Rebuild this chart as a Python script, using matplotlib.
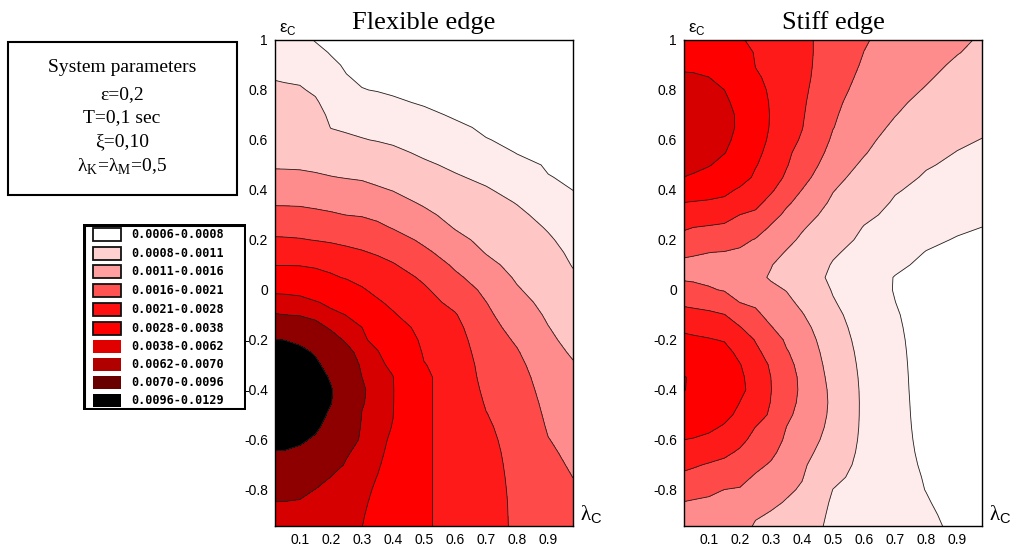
import numpy as np
import matplotlib
matplotlib.use("Agg")
import matplotlib.pyplot as plt
from matplotlib.patches import Rectangle

plt.rcParams['mathtext.fontset'] = 'custom'
plt.rcParams['mathtext.rm'] = 'Liberation Serif'
plt.rcParams['mathtext.sf'] = 'Liberation Sans'

# ---------------- data ----------------
lam = [0.02, 0.05, 0.1, 0.15, 0.2, 0.25, 0.3, 0.35, 0.4, 0.5, 0.6, 0.7, 0.8, 0.9, 0.98]
eps = [1.0, 0.95, 0.9, 0.85, 0.8, 0.75, 0.7, 0.65, 0.6, 0.55,
       0.5, 0.45, 0.4, 0.35, 0.3, 0.25, 0.2, 0.15, 0.1, 0.05,
       0.0, -0.05, -0.1, -0.15, -0.2, -0.25, -0.3, -0.35, -0.4, -0.45,
       -0.5, -0.55, -0.6, -0.65, -0.7, -0.75, -0.8, -0.85, -0.9, -0.95]

# values in units of 1e-4; one list per lambda column, eps from 1 down to -0.95
flex_cols = [
    [9.65, 10.06, 10.46, 10.86, 11.46, 12.15, 12.85, 13.55, 14.25, 14.95,
     15.63, 16.8, 18.6, 20.35, 22.82, 25.69, 28.8, 33.1, 37.5, 48.56,
     60.32, 65.76, 70.52, 83.52, 96.33, 108.5, 117.5, 123.1, 125.7, 125.0,
     121.4, 114.8, 105.6, 94.7, 88.2, 82.0, 75.5, 69.76, 68.3, 66.8],
    [9.35, 9.82, 10.29, 10.76, 11.35, 12.05, 12.75, 13.5, 14.2, 14.9,
     15.6, 16.8, 18.55, 20.35, 22.75, 25.62, 28.7, 33.1, 37.5, 48.32,
     60.08, 65.68, 70.05, 83.0, 95.74, 107.55, 116.1, 121.4, 124.05, 123.4,
     119.8, 113.5, 104.6, 94.44, 87.94, 81.44, 74.94, 69.68, 68.16, 66.64],
    [8.6, 9.26, 9.92, 10.58, 11.25, 11.95, 12.7, 13.4, 14.15, 14.85,
     15.55, 16.7, 18.45, 20.25, 22.61, 25.41, 28.4, 32.8, 37.2, 47.6,
     59.12, 65.12, 69.2, 79.62, 91.58, 101.6, 108.9, 113.5, 115.8, 115.1,
     112.5, 106.6, 99.3, 91.84, 85.6, 79.36, 73.12, 69.12, 67.68, 66.0],
    [7.9, 8.51, 9.2, 9.89, 10.61, 11.35, 12.15, 12.95, 13.75, 14.6,
     15.4, 16.4, 18.15, 19.9, 22.05, 24.92, 27.79, 31.8, 36.0, 43.52,
     54.08, 63.04, 67.28, 73.64, 83.78, 93.92, 100.3, 103.9, 105.9, 105.6,
     103.3, 99.5, 93.0, 87.16, 81.18, 75.2, 69.76, 68.16, 66.64, 65.12],
    [7.5, 7.88, 8.36, 8.87, 9.38, 9.89, 10.4, 10.91, 12.1, 13.45,
     14.8, 16.15, 17.9, 19.6, 21.49, 24.36, 27.16, 30.8, 34.7, 39.68,
     49.52, 59.36, 64.8, 68.64, 74.42, 80.92, 87.68, 94.18, 97.32, 96.66,
     92.88, 88.2, 83.26, 78.58, 73.9, 69.76, 68.4, 67.04, 65.68, 64.32],
    [7.24, 7.5, 7.78, 8.09, 8.72, 9.35, 9.98, 10.61, 11.5, 12.95,
     14.4, 15.85, 17.55, 19.25, 20.95, 23.66, 26.39, 29.6, 33.3, 37.0,
     44.24, 53.12, 61.76, 65.2, 68.48, 73.64, 79.1, 83.0, 85.08, 85.6,
     84.43, 81.7, 77.28, 71.04, 69.08, 67.96, 66.84, 65.72, 64.6, 63.52],
    [7.0, 7.26, 7.5, 7.76, 8.06, 8.81, 9.56, 10.31, 11.15, 12.65,
     14.1, 15.6, 17.2, 18.95, 20.65, 23.1, 25.76, 28.5, 31.8, 35.2,
     38.96, 46.88, 54.56, 62.04, 64.0, 66.0, 68.0, 70.05, 71.3, 70.78,
     69.6, 68.72, 67.92, 67.04, 66.24, 65.44, 64.56, 63.76, 62.88, 62.08],
    [6.8, 7.08, 7.36, 7.64, 7.92, 8.54, 9.29, 10.07, 10.85, 12.15,
     13.55, 15.0, 16.5, 18.25, 19.95, 21.98, 24.64, 27.3, 30.1, 32.9,
     35.7, 39.2, 45.68, 51.92, 58.4, 62.8, 64.32, 65.44, 66.08, 66.4,
     66.32, 65.92, 65.28, 64.4, 63.2, 61.76, 60.56, 59.36, 58.16, 57.2],
    [6.6, 6.9, 7.2, 7.48, 7.78, 8.24, 9.02, 9.77, 10.55, 11.6,
     13.0, 14.45, 15.85, 17.45, 19.05, 20.7, 23.17, 25.83, 28.5, 31.0,
     33.5, 36.0, 38.96, 44.24, 49.52, 54.8, 59.84, 62.32, 62.64, 62.56,
     62.24, 61.52, 60.08, 58.88, 57.44, 56.24, 55.04, 53.6, 52.4, 51.2],
    [6.3, 6.6, 6.92, 7.22, 7.54, 7.84, 8.36, 9.08, 9.8, 10.52,
     11.45, 12.8, 14.15, 15.45, 16.95, 18.5, 20.05, 21.98, 24.43, 26.95,
     28.9, 30.4, 32.0, 33.6, 35.2, 36.7, 38.48, 39.92, 39.92, 39.92,
     39.92, 39.92, 39.92, 39.92, 39.92, 39.92, 39.92, 39.92, 39.92, 39.92],
    [6.1, 6.38, 6.68, 6.96, 7.26, 7.54, 7.82, 8.3, 9.02, 9.74,
     10.49, 11.3, 12.4, 13.5, 14.65, 15.75, 17.15, 18.65, 20.2, 21.98,
     24.15, 26.25, 28.5, 30.0, 31.2, 32.2, 33.0, 33.0, 33.0, 33.0,
     33.0, 33.0, 33.0, 33.0, 33.0, 33.0, 33.0, 33.0, 33.0, 33.0],
    [6.04, 6.28, 6.54, 6.78, 7.02, 7.26, 7.52, 7.76, 8.06, 8.84,
     9.65, 10.43, 11.25, 12.15, 13.1, 14.0, 14.9, 15.8, 17.1, 18.45,
     19.8, 21.07, 21.91, 22.68, 23.52, 24.29, 25.13, 25.9, 26.74, 27.51,
     28.2, 28.8, 29.3, 29.7, 30.0, 30.2, 30.4, 30.5, 30.5, 30.5],
    [6.02, 6.22, 6.42, 6.64, 6.86, 7.08, 7.28, 7.5, 7.72, 7.92,
     8.54, 9.29, 10.07, 10.85, 11.6, 12.4, 13.15, 13.95, 14.7, 15.5,
     16.35, 17.35, 18.35, 19.4, 20.4, 21.35, 22.26, 23.1, 23.8, 24.5,
     25.06, 25.55, 25.9, 26.18, 26.39, 26.6, 26.74, 26.88, 26.95, 27.02],
    [6.02, 6.18, 6.36, 6.54, 6.74, 6.92, 7.1, 7.28, 7.46, 7.64,
     7.84, 8.06, 8.72, 9.41, 10.07, 10.73, 11.4, 12.1, 12.75, 13.45,
     14.1, 14.8, 15.45, 16.1, 16.65, 17.2, 17.8, 18.35, 18.9, 19.45,
     20.0, 20.55, 21.14, 21.7, 22.12, 22.47, 22.75, 22.96, 23.1, 23.24],
    [6.02, 6.16, 6.32, 6.5, 6.66, 6.82, 6.98, 7.14, 7.32, 7.48,
     7.64, 7.8, 7.98, 8.39, 8.87, 9.38, 9.86, 10.34, 10.82, 11.45,
     12.15, 12.85, 13.55, 14.25, 14.95, 15.6, 16.25, 16.75, 17.3, 17.85,
     18.35, 18.9, 19.45, 19.95, 20.5, 20.975, 21.56, 21.98, 22.33, 22.61],
]

stiff_cols = [
    [52.4, 56.48, 60.32, 63.36, 65.12, 66.4, 67.04, 67.18, 66.72, 65.68,
     64.16, 61.9, 50.0, 38.0, 33.5, 28.9, 25.34, 21.98, 19.75, 20.2,
     23.1, 26.6, 30.7, 35.3, 41.12, 49.28, 57.2, 62.8, 62.4, 56.96,
     51.92, 44.24, 38.0, 33.8, 29.7, 26.32, 23.52, 20.85, 19.1, 17.35],
    [51.2, 55.52, 60.08, 63.2, 64.96, 66.08, 66.88, 67.04, 66.56, 65.52,
     64.0, 61.04, 48.32, 37.1, 32.5, 28.0, 24.85, 21.63, 19.55, 20.1,
     22.54, 26.11, 30.2, 34.8, 39.92, 45.92, 52.4, 59.6, 60.08, 54.8,
     48.8, 42.8, 37.2, 33.0, 28.8, 25.76, 22.96, 20.5, 18.95, 17.35],
    [47.6, 52.64, 57.44, 62.16, 63.96, 65.2, 65.84, 66.0, 65.52, 64.52,
     62.96, 56.0, 44.72, 36.2, 31.6, 27.37, 24.15, 21.05, 19.55, 20.0,
     21.42, 25.27, 29.4, 33.9, 38.72, 44.0, 49.52, 54.8, 55.28, 51.2,
     46.4, 40.4, 35.2, 31.2, 27.44, 24.78, 22.05, 20.15, 18.75, 17.35],
    [44.0, 48.56, 53.12, 57.44, 62.03, 63.44, 64.24, 64.4, 63.84, 62.56,
     57.44, 49.28, 41.12, 35.3, 30.7, 26.74, 23.52, 20.8, 19.7, 20.05,
     20.7, 23.52, 28.2, 32.7, 37.3, 41.6, 45.92, 49.28, 49.52, 46.64,
     41.36, 36.6, 33.0, 29.4, 26.39, 23.66, 20.95, 19.9, 18.75, 17.65],
    [39.2, 45.2, 50.0, 54.32, 57.68, 59.6, 60.8, 60.8, 59.6, 56.0,
     51.2, 43.28, 36.3, 32.2, 27.93, 25.06, 22.19, 20.3, 19.2, 19.25,
     20.1, 20.95, 24.5, 28.3, 31.8, 35.2, 38.48, 39.68, 39.68, 37.9,
     35.2, 32.4, 29.7, 27.09, 24.71, 22.4, 20.65, 19.75, 18.8, 17.9],
    [35.5, 36.8, 37.7, 39.2, 40.88, 42.08, 42.8, 42.8, 41.84, 40.4,
     38.72, 36.1, 33.0, 29.9, 26.74, 23.52, 20.7, 19.05, 17.45, 17.1,
     18.75, 20.35, 21.84, 24.78, 27.65, 29.5, 31.8, 34.0, 35.3, 34.2,
     31.3, 27.93, 26.04, 24.08, 22.19, 20.45, 19.15, 17.85, 16.5, 15.4],
    [32.5, 34.0, 35.2, 36.2, 36.8, 37.3, 37.5, 37.3, 36.5, 35.2,
     33.5, 31.5, 29.0, 25.9, 22.82, 20.45, 19.0, 17.6, 16.2, 15.6,
     16.9, 18.35, 19.8, 21.21, 23.45, 25.55, 27.16, 27.98, 28.2, 27.72,
     26.95, 25.55, 23.8, 22.05, 20.5, 19.25, 18.0, 16.75, 15.65, 14.7],
    [31.5, 32.2, 32.7, 33.0, 33.0, 32.7, 32.0, 31.2, 30.2, 29.3,
     28.5, 26.95, 24.36, 21.77, 20.0, 18.55, 17.15, 15.7, 14.35, 14.15,
     15.85, 17.0, 18.1, 19.2, 20.35, 21.35, 22.19, 22.89, 23.1, 22.68,
     21.91, 20.95, 20.1, 19.25, 18.35, 17.5, 16.6, 15.75, 14.8, 13.9],
    [30.0, 30.2, 30.2, 30.0, 29.5, 29.0, 28.6, 28.2, 27.37, 25.76,
     24.15, 22.61, 20.95, 19.5, 17.95, 16.45, 15.3, 14.3, 13.3, 12.75,
     13.95, 15.1, 16.3, 17.5, 18.5, 19.25, 19.8, 20.15, 20.25, 20.05,
     19.65, 19.05, 18.35, 17.5, 16.65, 16.2, 15.6, 14.9, 14.2, 13.5],
    [24.5, 24.15, 23.66, 23.1, 22.54, 21.98, 21.56, 21.14, 20.2, 19.2,
     18.2, 17.2, 16.2, 15.25, 14.25, 13.3, 12.35, 11.4, 10.76, 10.4,
     10.76, 11.25, 11.9, 12.5, 13.1, 13.65, 14.15, 14.6, 15.0, 15.2,
     15.1, 14.8, 14.3, 13.6, 12.8, 11.9, 10.94, 10.4, 10.04, 9.8],
    [21.35, 20.95, 20.5, 20.0, 19.5, 18.9, 18.3, 17.65, 17.0, 16.3,
     15.35, 14.45, 13.5, 12.6, 11.7, 10.85, 10.34, 9.8, 9.29, 8.81,
     8.84, 8.99, 9.17, 9.38, 9.59, 9.8, 9.98, 10.13, 10.22, 10.25,
     10.25, 10.22, 10.13, 10.01, 9.86, 9.68, 9.5, 9.35, 9.2, 9.08],
    [19.5, 19.0, 18.5, 17.9, 17.3, 16.7, 16.1, 15.35, 14.5, 13.7,
     12.9, 12.05, 11.25, 10.67, 10.19, 9.71, 9.23, 8.75, 8.3, 7.94,
     7.92, 8.015, 8.18, 8.33, 8.48, 8.6, 8.69, 8.75, 8.78, 8.81,
     8.81, 8.81, 8.81, 8.81, 8.81, 8.81, 8.81, 8.78, 8.75, 8.72],
    [18.25, 17.65, 17.0, 16.4, 15.75, 15.0, 14.25, 13.5, 12.75, 12.0,
     11.25, 10.67, 10.22, 9.74, 9.29, 8.84, 8.36, 7.94, 7.68, 7.46,
     7.3, 7.18, 7.1, 7.04, 7.0, 6.98, 6.98, 7.0, 7.04, 7.1,
     7.18, 7.28, 7.4, 7.54, 7.7, 7.86, 7.96, 8.15, 8.39, 8.6],
    [16.6, 16.15, 15.45, 14.8, 14.15, 13.5, 12.85, 12.2, 11.55, 10.91,
     10.46, 10.04, 9.59, 9.14, 8.72, 8.27, 7.88, 7.6, 7.36, 7.14,
     6.96, 6.82, 6.7, 6.62, 6.56, 6.52, 6.5, 6.5, 6.5, 6.52,
     6.56, 6.6, 6.66, 6.74, 6.84, 6.96, 7.08, 7.2, 7.34, 7.5],
    [15.65, 15.15, 14.6, 14.1, 13.55, 12.9, 12.25, 11.55, 10.91, 10.49,
     10.07, 9.68, 9.26, 8.84, 8.42, 7.99, 7.74, 7.52, 7.3, 7.12,
     6.96, 6.82, 6.7, 6.6, 6.54, 6.5, 6.48, 6.46, 6.44, 6.44,
     6.44, 6.44, 6.44, 6.44, 6.44, 6.44, 6.44, 6.44, 6.44, 6.44],
]

levels = [6, 8, 11, 16, 21, 28, 38, 62, 70, 96, 129]   # x 1e-4
band_colors = ['#ffffff', '#fdeceb', '#ffc6c6', '#ff8c8c', '#ff4a4a',
               '#ff1a1a', '#ff0000', '#d60000', '#8e0000', '#000000']
legend_colors = ['#ffffff', '#ffd0d0', '#ff9f9f', '#ff5252', '#ff1010',
                 '#ff0000', '#e00000', '#b00000', '#680000', '#000000']

x_ticks = [0.1, 0.2, 0.3, 0.4, 0.5, 0.6, 0.7, 0.8, 0.9]
x_tick_labels = ['0.1', '0.2', '0.3', '0.4', '0.5', '0.6', '0.7', '0.8', '0.9']
y_ticks = [1.0, 0.8, 0.6, 0.4, 0.2, 0.0, -0.2, -0.4, -0.6, -0.8]
y_tick_labels = ['1', '0.8', '0.6', '0.4', '0.2', '0', '-0.2', '-0.4', '-0.6', '-0.8']

titles = ['Flexible edge', 'Stiff edge']
param_lines = ['System parameters', 'ε=0,2', 'T=0,1 sec', 'ξ=0,10',
               'λ$_\\mathrm{K}$=λ$_\\mathrm{M}$=0,5']

# ---------------- figure ----------------
W, H = 1010, 548
fig = plt.figure(figsize=(W / 100, H / 100), dpi=100)


def fx(px):
    return px / W


def fy(py):
    return 1 - py / H


panels = [(275, flex_cols), (684, stiff_cols)]
eps_arr = np.array(eps)[::-1]
for (left, cols), title in zip(panels, titles):
    ax = fig.add_axes([fx(left), fy(526), 298 / W, 486 / H])
    Z = np.array(cols).T[::-1]
    ax.contourf(lam, eps_arr, Z, levels=levels, colors=band_colors)
    ax.contour(lam, eps_arr, Z, levels=levels[1:-1], colors='#202020',
               linewidths=0.6)
    ax.set_xlim(0.02, 0.98)
    ax.set_ylim(-0.945, 1.0)
    ax.set_xticks(x_ticks)
    ax.set_xticklabels(x_tick_labels, family='Liberation Sans', fontsize=10)
    ax.set_yticks(y_ticks)
    ax.set_yticklabels(y_tick_labels, family='Liberation Sans', fontsize=10)
    ax.tick_params(length=0, pad=5)
    for s in ax.spines.values():
        s.set_linewidth(1.0)
    ax.set_title(title, family='Liberation Serif', fontsize=19, pad=8)
    ax.text(0.015, 1.006, 'ε$_\\mathsf{C}$', transform=ax.transAxes,
            family='Liberation Sans', fontsize=12, ha='left', va='bottom')
    ax.text(1.025, 0.0, 'λ$_\\mathsf{C}$', transform=ax.transAxes,
            family='Liberation Serif', fontsize=15, ha='left', va='bottom')

# parameter box
fig.patches.append(Rectangle((fx(8), fy(195)), 229 / W, 153 / H,
                             transform=fig.transFigure, fill=False,
                             lw=1.5, ec='k'))
for s, py in zip(param_lines, [68, 95, 118, 142, 167]):
    fig.text(fx(122), fy(py), s, ha='center', va='center',
             family='Liberation Serif', fontsize=14)

# legend
lg = fig.add_axes([fx(83), fy(410), 163 / W, 186 / H])
lg.set_xlim(0, 163)
lg.set_ylim(186, 0)
lg.axis('off')
lg.add_patch(Rectangle((1, 1), 161, 184, fill=False, lw=2.2, ec='k'))
row_y = [10, 29, 47, 66, 85, 104, 122, 140, 158, 176]
for i in range(len(legend_colors)):
    y = row_y[i]
    lg.add_patch(Rectangle((10, y - 6.5), 28, 13, fc=legend_colors[i],
                           ec='#111111' if i < 6 else 'none', lw=1.3))
    lab = f"{levels[i] * 1e-4:.4f}-{levels[i + 1] * 1e-4:.4f}"
    lg.text(48, y, lab, va='center', ha='left', family='DejaVu Sans Mono',
            fontsize=8.5, fontweight='bold')

fig.savefig('out.png', dpi=100)
